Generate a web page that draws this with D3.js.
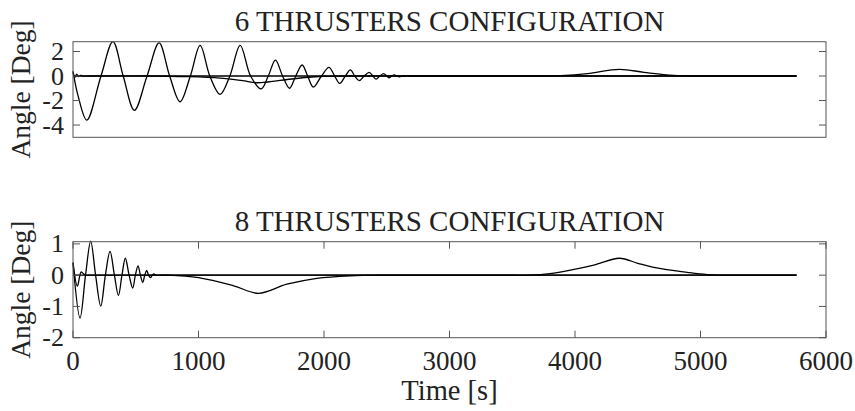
<!DOCTYPE html>
<html>
<head>
<meta charset="utf-8">
<script src="https://d3js.org/d3.v7.min.js"></script>
<style>
body{margin:0;background:#fff;}
text{font-family:"Liberation Serif","Times New Roman",serif;fill:#222;}
.box{fill:none;stroke:#555;stroke-width:1;}
.tick{stroke:#555;stroke-width:1;}
.series{fill:none;stroke:#000;stroke-width:1.3;}
</style>
</head>
<body>
<script>
// x ticks (time, s)
var timeTicks = [0,1000,2000,3000,4000,5000,6000];

// 6 thrusters: [t, angle in deg]
var six_osc = [[0,0.4],[40,-1.6],[110,-3.6],[223,0],[318,2.8],[400,0],[489,-2.8],[590,0],[686,2.7],[770,0],[853,-2.1],[935,0],
    [1013,2.5],[1090,0],[1172,-1.5],[1250,0],[1332,2.5],[1415,0],[1499,-1.05],[1556,0],[1613,1.3],[1670,0],[1725,-1.0],[1775,0],
    [1826,0.9],[1870,0],[1915,-0.9],[1980,0],[2040,0.7],[2085,0],[2125,-0.6],[2170,0],[2210,0.5],[2245,0],[2280,-0.38],[2320,0],
    [2360,0.3],[2390,0],[2415,-0.25],[2445,0],[2475,0.2],[2500,0],[2520,-0.14],[2540,0],[2560,0.1],[2580,0],[2600,-0.06],[2630,0],
    [2680,0],[5765,0]];
var six_dip = [[0,0.3],[15,-0.1],[30,0.15],[45,-0.05],[60,0.05],[80,0],[120,0],[600,0],[900,-0.05],[1172,-0.17],[1350,-0.38],[1470,-0.55],
    [1650,-0.35],[1850,-0.12],[2000,-0.02],[2300,0],[2500,0],[5765,0]];
var six_bump = [[0,0],[3400,0],[3600,0],[3884,0.04],[4100,0.2],[4354,0.55],[4550,0.3],[4785,0.05],[5000,0],[5200,0],[5765,0]];
var sixTicks = [2,0,-2,-4];

// 8 thrusters
var eight_osc = [[0,0.4],[56,-1.37],[100,0],[141,1.09],[180,0],[221,-0.99],[258,0],[295,0.76],[330,0],[362,-0.65],[390,0],
    [417,0.54],[447,0],[476,-0.41],[497,0],[518,0.3],[537,0],[556,-0.23],[572,0],[587,0.15],[602,0],[617,-0.08],[632,0],[645,0.04],
    [660,0],[720,0],[5765,0]];
var eight_dip = [[0,0.4],[35,-0.35],[64,0.1],[82,0.05],[100,0],[140,0],[650,0],[750,0],[1000,-0.08],[1280,-0.34],[1478,-0.58],[1704,-0.29],
    [1943,-0.1],[2209,-0.02],[2500,0],[2700,0],[5765,0]];
var eight_bump = [[0,0],[3400,0],[3645,0],[3800,0.05],[3964,0.16],[4150,0.32],[4354,0.54],[4500,0.38],[4628,0.25],[4894,0.09],
    [5054,0.02],[5300,0],[5500,0],[5765,0]];
var eightTicks = [1,0,-1,-2];

var width = 855,
    height = 411,
    left = 73,
    right = 826,
    tickLen = 7;

var x = d3.scaleLinear().domain([0,6000]).range([left,right]);

var svg = d3.select("body").append("svg")
    .attr("width",width)
    .attr("height",height);

var panels = [
    {title:"6 THRUSTERS CONFIGURATION", top:41.7, bottom:137.3, dom:[-5,2.8], ticks:sixTicks, lines:[six_osc,six_dip,six_bump], xt:false},
    {title:"8 THRUSTERS CONFIGURATION", top:241.7, bottom:337.7, dom:[-2,1.07], ticks:eightTicks, lines:[eight_osc,eight_dip,eight_bump], xt:true}
];

panels.forEach(function(p){
    var y = d3.scaleLinear().domain(p.dom).range([p.bottom,p.top]);
    var g = svg.append("g");

    var line = d3.line().curve(d3.curveCatmullRom.alpha(0.5))
        .x(function(d){return x(d[0]);})
        .y(function(d){return y(d[1]);});

    g.selectAll(".series").data(p.lines).enter()
        .append("path")
        .attr("class","series")
        .attr("d",line);

    // y ticks both sides, inside
    p.ticks.forEach(function(t){
        g.append("line").attr("class","tick")
            .attr("x1",left).attr("x2",left+tickLen).attr("y1",y(t)).attr("y2",y(t));
        g.append("line").attr("class","tick")
            .attr("x1",right).attr("x2",right-tickLen).attr("y1",y(t)).attr("y2",y(t));
        g.append("text")
            .attr("x",left-9)
            .attr("y",y(t)+8.5)
            .attr("text-anchor","end")
            .style("font-size","26px")
            .text(t);
    });

    if(p.xt){
        timeTicks.forEach(function(t){
            g.append("line").attr("class","tick")
                .attr("x1",x(t)).attr("x2",x(t)).attr("y1",p.bottom).attr("y2",p.bottom-tickLen);
            g.append("line").attr("class","tick")
                .attr("x1",x(t)).attr("x2",x(t)).attr("y1",p.top).attr("y2",p.top+tickLen);
            g.append("text")
                .attr("x",x(t))
                .attr("y",p.bottom+32)
                .attr("text-anchor","middle")
                .style("font-size","27px")
                .text(t);
        });
    }

    g.append("rect").attr("class","box")
        .attr("x",left).attr("y",p.top)
        .attr("width",right-left).attr("height",p.bottom-p.top);

    g.append("text")
        .attr("x",(left+right)/2)
        .attr("y",p.top-11)
        .attr("text-anchor","middle")
        .style("font-size","29px")
        .text(p.title);

    g.append("text")
        .attr("transform","translate(30,"+((p.top+p.bottom)/2)+") rotate(-90)")
        .attr("text-anchor","middle")
        .style("font-size","27.5px")
        .text("Angle [Deg]");
});

svg.append("text")
    .attr("x",(left+right)/2)
    .attr("y",400)
    .attr("text-anchor","middle")
    .style("font-size","28.5px")
    .text("Time [s]");
</script>
</body>
</html>
